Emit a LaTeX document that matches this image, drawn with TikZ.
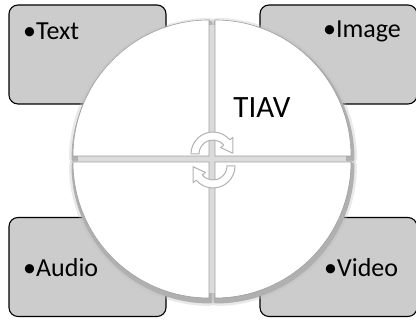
\documentclass[tikz,border=0pt]{standalone}
\usepackage{fontspec}
\setmainfont{Carlito}
\tikzset{
  box/.style={fill=gray!40, draw=black, line width=1.1pt, rounded corners=9pt, minimum width=157pt, minimum height=99pt, inner sep=0pt},
  quad/.style={fill=white, draw=gray!75, line width=0.6pt},
  qshadow/.style={fill=gray!62, draw=gray!62, line width=5pt, line join=round},
  qshadowsoft/.style={draw=gray!50, line width=10pt, opacity=0.35, line join=round},
  gapsty/.style={fill=gray!28},
  lbl/.style={font=\fontsize{26}{31}\selectfont, inner sep=0pt, anchor=west},
  arrowsty/.style={fill=white, draw=gray!60, line width=1pt, line join=round}
}
\begin{document}
\begin{tikzpicture}[x=1pt,y=1pt]
\useasboundingbox (0,0) rectangle (416,320);
% boxes
\node[box] (btl) at (87.5,265.5) {};
\node[box] (btr) at (338.5,265.5) {};
\node[box] (bbl) at (87.5,53) {};
\node[box] (bbr) at (338.5,53) {};
% quadrant shadows
\foreach \cx/\cy/\a in {209/164/90, 215/164/0, 209/158/180, 215/158/270}{
  \begin{scope}[shift={(\cx+1,\cy-3)}]
    \draw[qshadowsoft] (0,0) -- (\a:136) arc (\a:\a+90:136) -- cycle;
    \filldraw[qshadow] (0,0) -- (\a:136) arc (\a:\a+90:136) -- cycle;
  \end{scope}
}
% lighter gaps between the quadrants
\begin{scope}
  \clip (212,161) circle (134);
  \fill[gapsty] (208.5,0) rectangle (215.5,320);
  \fill[gapsty] (0,157.5) rectangle (416,164.5);
\end{scope}
% quadrants
\draw[quad] (209,164) -- ++(180:136) arc (180:90:136) -- cycle;
\draw[quad] (215,164) -- ++(90:136) arc (90:0:136) -- cycle;
\draw[quad] (209,158) -- ++(270:136) arc (270:180:136) -- cycle;
\draw[quad] (215,158) -- ++(0:136) arc (0:-90:136) -- cycle;
% centre arrows
\begin{scope}[shift={(213,166)}]
  \draw[arrowsty] (180:22) arc (180:40:22) -- (40:26) -- (2:20) -- (40:10) -- (40:14) arc (40:180:14) -- cycle;
\end{scope}
\begin{scope}[shift={(213,154)}, rotate=180]
  \draw[arrowsty] (180:22) arc (180:40:22) -- (40:26) -- (2:20) -- (40:10) -- (40:14) arc (40:180:14) -- cycle;
\end{scope}
% labels
\node[lbl] (ltext) at (23,289) {•Text};
\node[lbl] (limage) at (323,289) {•Image};
\node[lbl] (laudio) at (23,52) {•Audio};
\node[lbl] (lvideo) at (324,52) {•Video};
\node[font=\fontsize{31}{37}\selectfont, inner sep=0pt] (tiav) at (262,212) {TIAV};
\end{tikzpicture}
\end{document}
